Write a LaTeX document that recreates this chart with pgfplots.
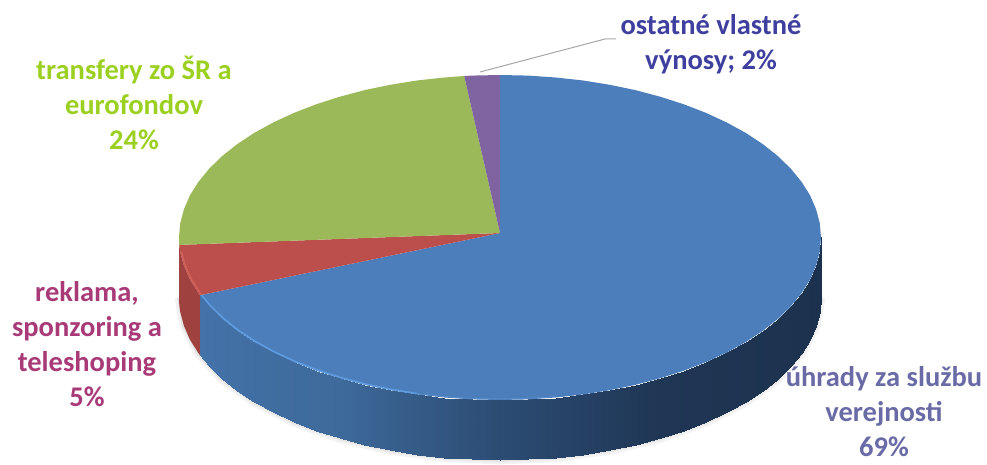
\documentclass[border=0pt]{standalone}
\usepackage{fontspec}
\setmainfont{Carlito}
\usepackage{pgfplots}
\pgfplotsset{compat=1.18}
\definecolor{pieblue}{HTML}{4C7EBB}
\definecolor{piegreen}{HTML}{9BB958}
\definecolor{piered}{HTML}{BC4F4B}
\definecolor{piepurple}{HTML}{8064A2}
\definecolor{wallred}{HTML}{9E413F}
\definecolor{rimred}{HTML}{D4605C}
\definecolor{rimblue}{HTML}{5E9BE0}
\definecolor{rimblue2}{HTML}{5589C8}
\definecolor{labblue}{HTML}{3F3FA0}
\definecolor{labgreen}{HTML}{9BD020}
\definecolor{labred}{HTML}{A83A78}
\definecolor{labgrey}{HTML}{6A6AA6}
\tikzset{lab/.style={align=center, font=\bfseries\fontsize{28.5}{35}\selectfont}}
\begin{document}
\begin{tikzpicture}
\begin{axis}[
    scale only axis,
    width=987pt,
    height=461pt,
    xmin=0, xmax=987,
    ymin=0, ymax=461,
    y dir=reverse,
    hide axis,
    clip=false,
    colormap={wall}{
        rgb255(0pt)=(68,115,170);
        rgb255(40pt)=(62,106,155);
        rgb255(70pt)=(44,76,115);
        rgb255(100pt)=(31,54,84);
        rgb255(160pt)=(27,48,76)},
    point meta min=200, point meta max=360
]
\path (axis cs:0,0) rectangle (axis cs:987,461);
% soft shadow under the wall
\addplot[draw=black!5, line width=9pt, line join=round, no markers] coordinates {
    (179.0,297.5) (183.9,325.7) (198.4,353.1) (222.0,378.8) (254.1,402.0) (293.7,422.0)
    (339.5,438.2) (390.2,450.2) (444.3,457.5) (500.0,460.0) (555.7,457.5) (609.8,450.2)
    (660.5,438.2) (706.3,422.0) (745.9,402.0) (778.0,378.8) (801.6,353.1) (816.1,325.7) (821.0,297.5)
};
\addplot[draw=black!11, line width=4pt, line join=round, no markers] coordinates {
    (179.0,297.5) (183.9,325.7) (198.4,353.1) (222.0,378.8) (254.1,402.0) (293.7,422.0)
    (339.5,438.2) (390.2,450.2) (444.3,457.5) (500.0,460.0) (555.7,457.5) (609.8,450.2)
    (660.5,438.2) (706.3,422.0) (745.9,402.0) (778.0,378.8) (801.6,353.1) (816.1,325.7) (821.0,297.5)
};
% red part of the wall
\addplot[fill=wallred, draw=none, no markers] coordinates {
    (179.0,237.5) (179.3,244.9) (180.2,251.7) (183.9,265.7) (189.9,279.6) (198.4,293.1) (200.0,295.2)
    (200.0,355.2) (198.4,353.1) (189.9,339.6) (183.9,325.7) (180.2,311.7) (179.3,304.9) (179.0,297.5)
};
% blue part of the wall, shaded from left to right
\addplot[surf, shader=interp, mesh/cols=2, point meta=explicit] table[x=x, y=y, meta=m] {
x y m
200.0 295.2 200.8
200.0 355.2 200.8
209.1 306.2 205
209.1 366.2 205
222.0 318.8 210
222.0 378.8 210
237.0 330.7 215
237.0 390.7 215
254.1 342.0 220
254.1 402.0 220
273.0 352.4 225
273.0 412.4 225
293.7 362.0 230
293.7 422.0 230
315.9 370.6 235
315.9 430.6 235
339.5 378.2 240
339.5 438.2 240
364.3 384.8 245
364.3 444.8 245
390.2 390.2 250
390.2 450.2 250
416.9 394.5 255
416.9 454.5 255
444.3 397.5 260
444.3 457.5 260
472.0 399.4 265
472.0 459.4 265
500.0 400.0 270
500.0 460.0 270
528.0 399.4 275
528.0 459.4 275
555.7 397.5 280
555.7 457.5 280
583.1 394.5 285
583.1 454.5 285
609.8 390.2 290
609.8 450.2 290
635.7 384.8 295
635.7 444.8 295
660.5 378.2 300
660.5 438.2 300
684.1 370.6 305
684.1 430.6 305
706.3 362.0 310
706.3 422.0 310
727.0 352.4 315
727.0 412.4 315
745.9 342.0 320
745.9 402.0 320
763.0 330.7 325
763.0 390.7 325
778.0 318.8 330
778.0 378.8 330
790.9 306.2 335
790.9 366.2 335
801.6 293.1 340
801.6 353.1 340
810.1 279.6 345
810.1 339.6 345
816.1 265.7 350
816.1 325.7 350
819.8 251.7 355
819.8 311.7 355
821.0 237.5 360
821.0 297.5 360
};
% top face: blue slice
\addplot[fill=pieblue, draw=none, no markers] coordinates {
    (500,233) (200.0,295.2) (209.1,306.2) (222.0,318.8) (237.0,330.7) (254.1,342.0) (273.0,352.4)
    (293.7,362.0) (315.9,370.6) (339.5,378.2) (364.3,384.8) (390.2,390.2) (416.9,394.5) (444.3,397.5)
    (472.0,399.4) (500.0,400.0) (528.0,399.4) (555.7,397.5) (583.1,394.5) (609.8,390.2) (635.7,384.8)
    (660.5,378.2) (684.1,370.6) (706.3,362.0) (727.0,352.4) (745.9,342.0) (763.0,330.7) (778.0,318.8)
    (790.9,306.2) (801.6,293.1) (810.1,279.6) (816.1,265.7) (819.8,251.7) (821.0,237.5) (819.8,223.3)
    (816.1,209.3) (810.1,195.4) (801.6,181.9) (790.9,168.8) (778.0,156.2) (763.0,144.3) (745.9,133.0)
    (727.0,122.6) (706.3,113.0) (684.1,104.4) (660.5,96.8) (635.7,90.2) (609.8,84.8) (583.1,80.5)
    (555.7,77.5) (528.0,75.6) (500.0,75.0)
};
% red slice
\addplot[fill=piered, draw=none, no markers] coordinates {
    (500,233) (179.3,244.9) (180.2,251.7) (183.9,265.7) (189.9,279.6) (198.4,293.1) (200.0,295.2)
};
% green slice
\addplot[fill=piegreen, draw=none, no markers] coordinates {
    (500,233) (464.2,76.0) (444.3,77.5) (416.9,80.5) (390.2,84.8) (364.3,90.2) (339.5,96.8) (315.9,104.4)
    (293.7,113.0) (273.0,122.6) (254.1,133.0) (237.0,144.3) (222.0,156.2) (209.1,168.8) (198.4,181.9)
    (189.9,195.4) (183.9,209.3) (180.2,223.3) (179.0,237.5) (179.3,244.9)
};
% purple slice
\addplot[fill=piepurple, draw=none, no markers] coordinates {
    (500,233) (500.0,75.0) (472.0,75.6) (464.2,76.0)
};
% rim highlights
\addplot[draw=rimred, line width=1.5pt, no markers] coordinates {
    (181.5,252) (185.2,265.5) (191.2,279) (199.5,292) (201.5,294.5)
};
\addplot[draw=rimblue, line width=1.5pt, no markers] coordinates {
    (201.5,295) (210.3,305.5) (223.0,318) (238.0,330) (254.8,341) (273.5,351.4)
    (294.0,361) (316.2,369.6) (339.7,377.2) (364.5,383.8) (390.3,389.2) (417.0,393.5)
};
\addplot[draw=rimblue2, line width=1pt, no markers] coordinates {
    (417.0,393.5) (444.3,396.5) (472.0,398.4) (500.0,399.0) (528.0,398.4) (555.7,396.5)
};
% leader line
\addplot[draw=black!35, line width=1pt, no markers] coordinates {
    (480,72) (605,39) (616,39)
};
\node[lab, text=labblue] at (axis cs:711,44) {ostatné vlastné\\výnosy; 2\%};
\node[lab, text=labgreen] at (axis cs:134,103) {transfery zo ŠR a\\eurofondov\\24\%};
\node[lab, text=labred] at (axis cs:87,344) {reklama,\\sponzoring a\\teleshoping\\5\%};
\node[lab, text=labgrey] at (axis cs:884,412) {úhrady za službu\\verejnosti\\69\%};
\end{axis}
\end{tikzpicture}
\end{document}
